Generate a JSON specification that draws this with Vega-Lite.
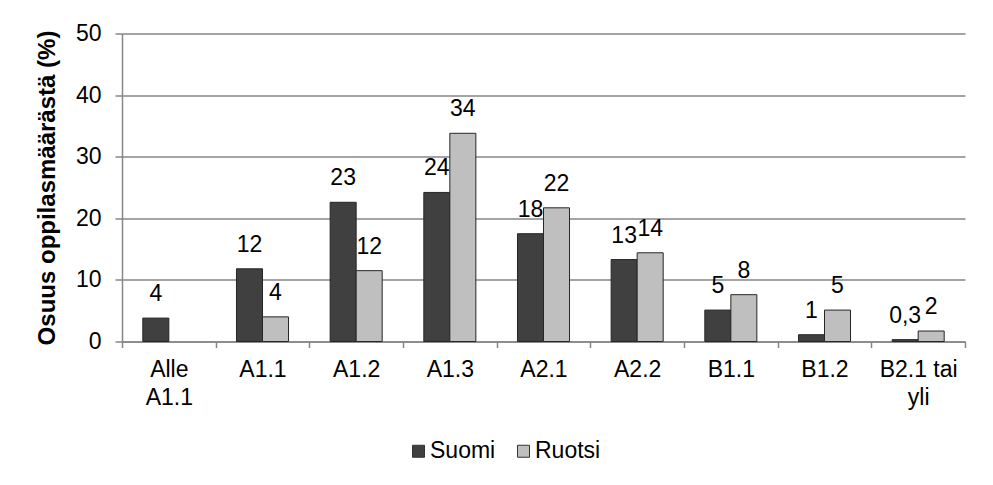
{
  "$schema": "https://vega.github.io/schema/vega-lite/v6.json",
  "width": 843,
  "height": 308,
  "autosize": {"type": "none"},
  "padding": {"left": 122, "top": 33.5, "right": 28, "bottom": 143.5},
  "background": "white",
  "config": {"view": {"stroke": null}, "font": "Liberation Sans"},
  "data": {
    "values": [
      {"level": "Alle|A1.1", "lang": "Suomi", "value": 3.8, "label": "4"},
      {"level": "A1.1", "lang": "Suomi", "value": 11.8, "label": "12"},
      {"level": "A1.1", "lang": "Ruotsi", "value": 4.0, "label": "4"},
      {"level": "A1.2", "lang": "Suomi", "value": 22.6, "label": "23"},
      {"level": "A1.2", "lang": "Ruotsi", "value": 11.5, "label": "12"},
      {"level": "A1.3", "lang": "Suomi", "value": 24.2, "label": "24"},
      {"level": "A1.3", "lang": "Ruotsi", "value": 33.8, "label": "34"},
      {"level": "A2.1", "lang": "Suomi", "value": 17.5, "label": "18"},
      {"level": "A2.1", "lang": "Ruotsi", "value": 21.7, "label": "22"},
      {"level": "A2.2", "lang": "Suomi", "value": 13.3, "label": "13"},
      {"level": "A2.2", "lang": "Ruotsi", "value": 14.4, "label": "14"},
      {"level": "B1.1", "lang": "Suomi", "value": 5.1, "label": "5"},
      {"level": "B1.1", "lang": "Ruotsi", "value": 7.6, "label": "8"},
      {"level": "B1.2", "lang": "Suomi", "value": 1.1, "label": "1"},
      {"level": "B1.2", "lang": "Ruotsi", "value": 5.1, "label": "5"},
      {"level": "B2.1 tai|yli", "lang": "Suomi", "value": 0.3, "label": "0,3"},
      {"level": "B2.1 tai|yli", "lang": "Ruotsi", "value": 1.7, "label": "2"}
    ]
  },
  "encoding": {
    "x": {
      "field": "level",
      "type": "nominal",
      "sort": ["Alle|A1.1", "A1.1", "A1.2", "A1.3", "A2.1", "A2.2", "B1.1", "B1.2", "B2.1 tai|yli"],
      "scale": {"paddingInner": 0, "paddingOuter": 0},
      "axis": {
        "title": null,
        "labelAngle": 0,
        "labelExpr": "split(datum.label, '|')",
        "labelFontSize": 23,
        "labelColor": "#000",
        "labelLineHeight": 27.5,
        "labelPadding": 11,
        "labelBaseline": "top",
        "tickBand": "extent",
        "tickSize": 6,
        "tickColor": "#868686",
        "tickWidth": 1.5,
        "domainColor": "#868686",
        "domainWidth": 1.5,
        "grid": false
      }
    },
    "xOffset": {
      "field": "lang",
      "type": "nominal",
      "scale": {"domain": ["Suomi", "Ruotsi"], "paddingInner": 0, "paddingOuter": 0.8}
    }
  },
  "layer": [
    {
      "mark": {"type": "bar", "stroke": "#262626", "strokeWidth": 1},
      "encoding": {
        "y": {
          "field": "value",
          "type": "quantitative",
          "scale": {"domain": [0, 50], "nice": false},
          "axis": {
            "values": [0, 10, 20, 30, 40, 50],
            "title": "Osuus oppilasmäärästä (%)",
            "titleFontSize": 24,
            "titleFontWeight": "bold",
            "titleColor": "#000",
            "titlePadding": 16,
            "labelFontSize": 23,
            "labelColor": "#000",
            "labelPadding": 14,
            "tickSize": 7,
            "tickColor": "#868686",
            "tickWidth": 1.5,
            "domainColor": "#868686",
            "domainWidth": 1.5,
            "gridColor": "#868686",
            "gridWidth": 1.5
          }
        },
        "color": {
          "field": "lang",
          "type": "nominal",
          "scale": {"domain": ["Suomi", "Ruotsi"], "range": ["#404040", "#bfbfbf"]},
          "legend": {
            "title": null,
            "orient": "none",
            "direction": "horizontal",
            "legendX": 285,
            "legendY": 406,
            "symbolType": "square",
            "symbolSize": 144,
            "symbolStrokeColor": "#333",
            "symbolStrokeWidth": 1,
            "labelFontSize": 23,
            "labelColor": "#000",
            "labelOffset": 0,
            "columnPadding": 16
          }
        }
      }
    },
    {
      "mark": {"type": "text", "fontSize": 23, "dy": -17, "baseline": "alphabetic", "color": "#000"},
      "encoding": {
        "y": {"field": "value", "type": "quantitative"},
        "text": {"field": "label"}
      }
    }
  ]
}
